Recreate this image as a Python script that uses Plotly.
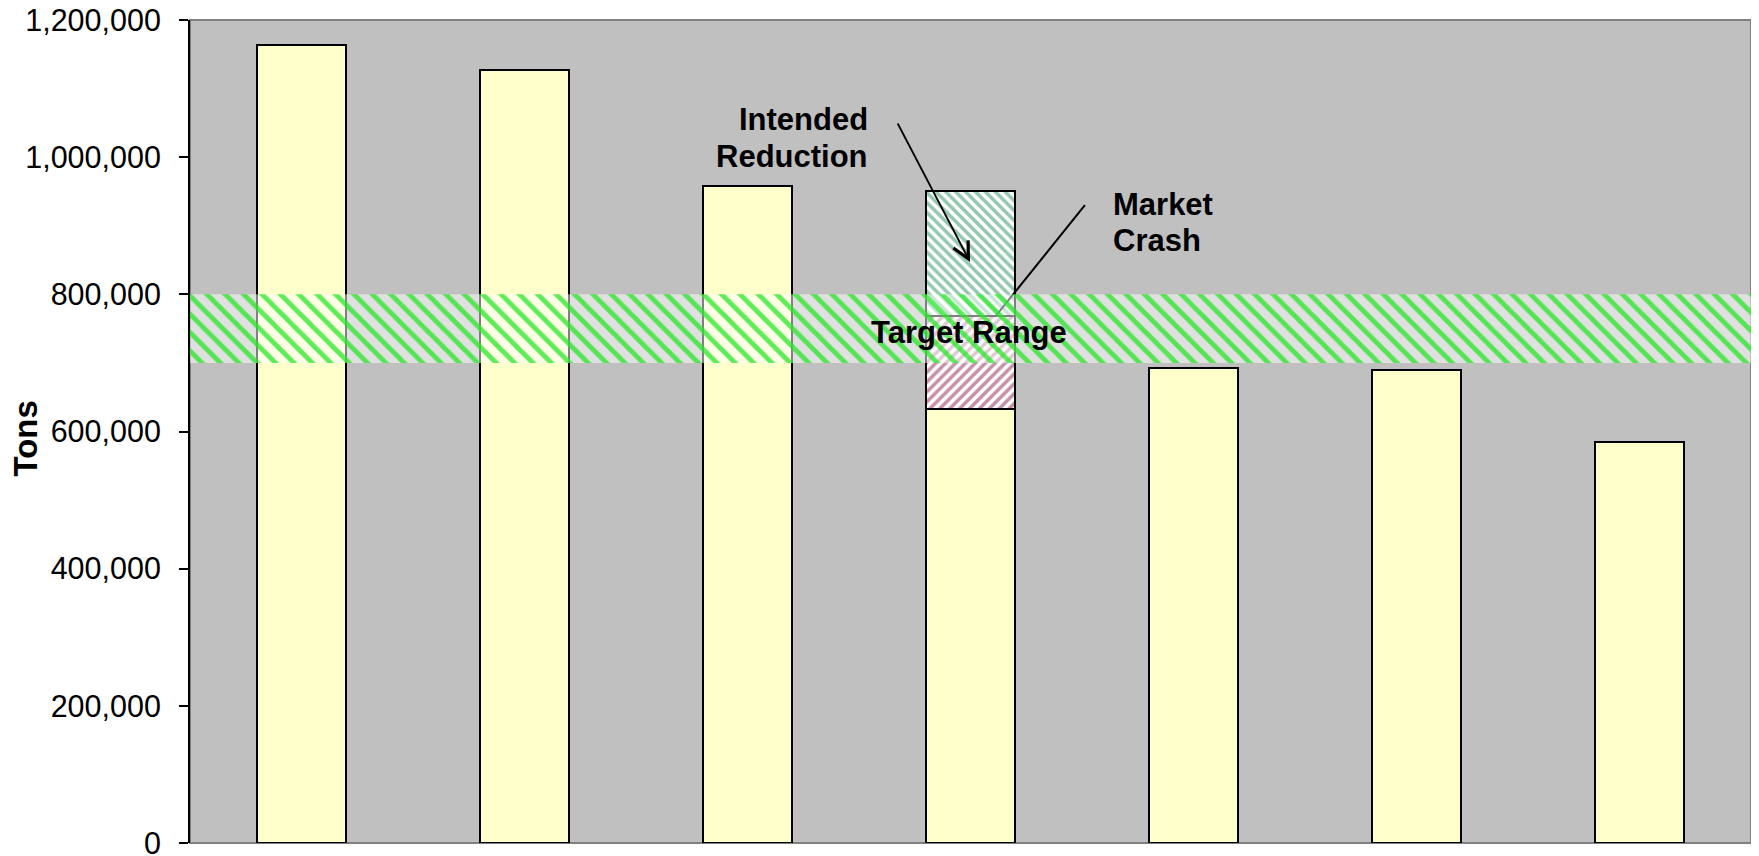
import plotly.graph_objects as go

# ---- data ----
categories = [0, 1, 2, 3, 4, 5, 6]
tons = [1163500, 1127000, 958000, 632400, 693000, 689000, 584000]
market_crash = [None, None, None, 136000, None, None, None]
intended_reduction = [None, None, None, 181600, None, None, None]
band_low = 700000
band_high = 800000
y_ticks = [0, 200000, 400000, 600000, 800000, 1000000, 1200000]
y_tick_labels = ["0", "200,000", "400,000", "600,000", "800,000", "1,000,000", "1,200,000"]
x_range = [-0.5, 6.5]
y_range = [0, 1200000]

# leader line for "Market Crash" (data coords)
crash_line_x = [3.513, 3.11]
crash_line_y = [930000, 767000]
# arrow for "Intended Reduction" (tail -> head)
intended_tail = (2.670, 1051300)
intended_head = (2.998, 847100)

FONT = "Liberation Sans, Arial, sans-serif"

fig = go.Figure()

fig.add_trace(go.Bar(
    x=categories, y=tons, width=0.4,
    marker=dict(color="#ffffcc", line=dict(color="black", width=2)),
    showlegend=False, hoverinfo="y"))

fig.add_trace(go.Bar(
    x=categories, y=market_crash, width=0.4,
    marker=dict(color="white", line=dict(color="black", width=2),
                pattern=dict(shape="/", fgcolor="#8b2252", bgcolor="white",
                             size=7, solidity=0.5)),
    showlegend=False, hoverinfo="y"))

fig.add_trace(go.Bar(
    x=categories, y=intended_reduction, width=0.4,
    marker=dict(color="white", line=dict(color="black", width=2),
                pattern=dict(shape="\\", fgcolor="#2a9060", bgcolor="white",
                             size=7, solidity=0.5)),
    showlegend=False, hoverinfo="y"))

# leader line (drawn beneath band)
fig.add_trace(go.Scatter(
    x=crash_line_x, y=crash_line_y, mode="lines",
    line=dict(color="black", width=2), showlegend=False, hoverinfo="skip"))

# target band
fig.add_trace(go.Scatter(
    x=[x_range[0], x_range[1], x_range[1], x_range[0], x_range[0]],
    y=[band_low, band_low, band_high, band_high, band_low],
    mode="lines", line=dict(width=0), fill="toself",
    fillcolor="rgba(255,255,255,0.5)",
    fillpattern=dict(shape="\\", bgcolor="rgba(255,255,255,0.5)",
                     fgcolor="rgb(40,230,40)", fgopacity=0.75,
                     size=13, solidity=0.38, fillmode="replace"),
    showlegend=False, hoverinfo="skip"))

# page body has an 8px margin: compensate so the plot area lands at
# x 190..1751, y 20..843 of the window
fig.update_layout(
    barmode="stack",
    width=1759, height=856,
    margin=dict(l=182, r=16, t=12, b=21),
    paper_bgcolor="white",
    plot_bgcolor="#c0c0c0",
    font=dict(family=FONT, size=29, color="black"),
    xaxis=dict(range=x_range, showticklabels=False, showgrid=False,
               zeroline=False, showline=False, ticks="", automargin=False),
    yaxis=dict(range=y_range, tickvals=y_ticks, ticktext=y_tick_labels,
               showgrid=False, zeroline=False, showline=True,
               linecolor="black", linewidth=2, ticks="outside",
               ticklen=9, tickwidth=2, tickcolor="black",
               ticklabelstandoff=12, automargin=False,
               ticklabeloverflow="allow",
               tickfont=dict(family=FONT, size=30.5, color="black")),
    shapes=[dict(type="rect", xref="paper", yref="paper", x0=0, x1=1, y0=0, y1=1,
                 line=dict(color="#808080", width=2), layer="below")],
)

AF = 31
annotations = [
    dict(text="<b>Tons</b>", xref="paper", yref="paper",
         x=(25 - 190) / 1561, y=0.4915, textangle=-90, showarrow=False,
         xanchor="center", yanchor="middle", font=dict(size=33)),
    dict(text="<b>Intended</b>", x=2.549, y=1055000,
         xanchor="right", yanchor="middle", showarrow=False, font=dict(size=AF)),
    dict(text="<b>Reduction</b>", x=2.549, y=1001000,
         xanchor="right", yanchor="middle", showarrow=False, font=dict(size=AF)),
    dict(text="<b>Market</b>", x=3.628, y=931000,
         xanchor="left", yanchor="middle", showarrow=False, font=dict(size=AF)),
    dict(text="<b>Crash</b>", x=3.628, y=879000,
         xanchor="left", yanchor="middle", showarrow=False, font=dict(size=AF)),
    dict(text="<b>Target Range</b>", x=2.993, y=745000,
         xanchor="center", yanchor="middle", showarrow=False, font=dict(size=AF)),
    dict(text="", x=intended_head[0], y=intended_head[1],
         ax=intended_tail[0], ay=intended_tail[1], axref="x", ayref="y",
         showarrow=True, arrowhead=5, arrowsize=1.8, arrowwidth=1.8,
         arrowcolor="black", standoff=0),
]
fig.update_layout(annotations=annotations)

fig.write_html("out.html")
